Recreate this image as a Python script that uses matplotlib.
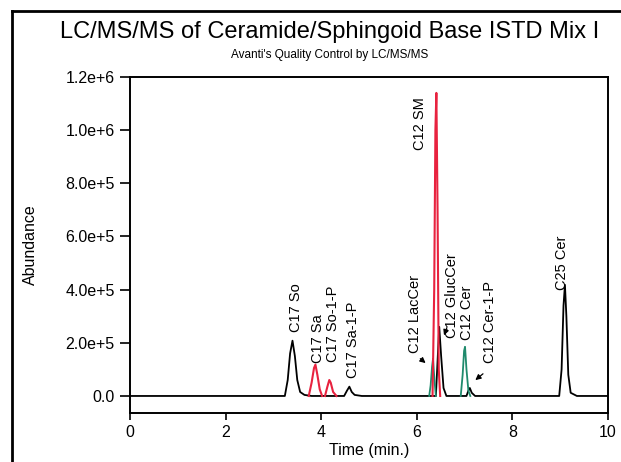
import numpy as np
import matplotlib
matplotlib.use("Agg")
import matplotlib.pyplot as plt
from matplotlib.lines import Line2D

plt.rcParams['font.family'] = ['Liberation Sans', 'DejaVu Sans']

nan = np.nan

# black trace (C17 So, C17 Sa-1-P, C12 GlucCer, C12 Cer-1-P, C25 Cer)
x_black = [0, 3.24, 3.30, 3.35, 3.40, 3.45, 3.50, 3.56, 3.65, 3.80,
           4.48, 4.54, 4.59, 4.64, 4.70, 4.85,
           6.40, 6.44, 6.47, 6.51, 6.56, 6.62,
           7.04, 7.08, 7.11, 7.15, 7.22,
           8.98, 9.03, 9.07, 9.10, 9.13, 9.17, 9.22, 9.35, 10]
y_black = [0, 0, 6e4, 1.6e5, 2.08e5, 1.5e5, 6e4, 1.5e4, 4e3, 0,
           0, 2.0e4, 3.5e4, 1.5e4, 4e3, 0,
           0, 1.5e5, 2.6e5, 1.5e5, 3e4, 0,
           0, 2.0e4, 3.0e4, 1.2e4, 0,
           0, 1.0e5, 3.4e5, 4.18e5, 3.0e5, 8e4, 1.2e4, 0, 0]

# red trace (C17 Sa, C17 So-1-P, C12 SM)
x_red = [3.74, 3.80, 3.85, 3.88, 3.92, 3.97, 4.02, nan,
         4.08, 4.13, 4.17, 4.20, 4.25, 4.32, nan,
         6.33, 6.365, 6.39, 6.41, 6.435, 6.46, 6.49]
y_red = [0, 5.0e4, 1.05e5, 1.18e5, 8.0e4, 2.5e4, 0, nan,
         0, 3.5e4, 6.0e4, 5.0e4, 1.5e4, 0, nan,
         0, 4.0e5, 1.0e6, 1.14e6, 7.0e5, 1.0e5, 0]

# green trace (C12 LacCer, C12 Cer)
x_green = [6.26, 6.29, 6.32, 6.34, 6.37, 6.40, nan,
           6.92, 6.96, 6.99, 7.01, 7.04, 7.08, 7.12]
y_green = [0, 4e4, 1.1e5, 1.4e5, 6e4, 0, nan,
           0, 8e4, 1.7e5, 1.85e5, 1.0e5, 2e4, 0]

peak_labels = ["C17 So", "C17 Sa", "C17 So-1-P", "C17 Sa-1-P", "C12 LacCer",
               "C12 SM", "C12 GlucCer", "C12 Cer", "C12 Cer-1-P", "C25 Cer"]
label_x = [3.47, 3.93, 4.25, 4.67, 5.96, 6.07, 6.74, 7.05, 7.53, 9.04]
label_y = [2.41e5, 1.24e5, 1.28e5, 6.8e4, 1.62e5, 9.25e5, 2.18e5, 2.1e5, 1.24e5, 3.99e5]

yticks = [0, 2e5, 4e5, 6e5, 8e5, 1e6, 1.2e6]
ytick_labels = ["0.0", "2.0e+5", "4.0e+5", "6.0e+5", "8.0e+5", "1.0e+6", "1.2e+6"]
xticks = [0, 2, 4, 6, 8, 10]

fig = plt.figure(figsize=(6.21, 4.62), dpi=100)
ax = fig.add_axes([0.2093, 0.1061, 0.7697, 0.7273])

ax.plot(x_green, y_green, color="#1f8a6c", lw=1.3, zorder=2)
ax.plot(x_black, y_black, color="black", lw=1.3, zorder=1)
ax.plot(x_red, y_red, color="#e8223f", lw=1.5, zorder=3)

for lab, lx, ly in zip(peak_labels, label_x, label_y):
    ax.text(lx, ly, lab, rotation=90, ha="center", va="bottom", fontsize=10.5)

arrow = dict(arrowstyle="-|>", color="black", lw=0.9, mutation_scale=8)
ax.annotate("", xy=(6.23, 1.17e5), xytext=(6.03, 1.47e5), arrowprops=arrow)
ax.annotate("", xy=(6.55, 2.18e5), xytext=(6.65, 2.67e5), arrowprops=arrow)
ax.annotate("", xy=(7.18, 5.3e4), xytext=(7.43, 9.0e4), arrowprops=arrow)

ax.set_xlim(0, 10)
ax.set_ylim(-6.4e4, 1.2e6)
ax.set_xticks(xticks)
ax.set_yticks(yticks)
ax.set_yticklabels(ytick_labels)
ax.tick_params(axis="y", length=7, width=1.2, labelsize=11.5, pad=4)
ax.tick_params(axis="x", length=5, width=1.2, labelsize=11.5, pad=4)
for s in ax.spines.values():
    s.set_linewidth(1.4)
ax.set_xlabel("Time (min.)", fontsize=11.5, labelpad=2)
ax.set_ylabel("Abundance", fontsize=11.5, labelpad=20)

fig.text(330 / 621, 1 - 32 / 462, "LC/MS/MS of Ceramide/Sphingoid Base ISTD Mix I",
         ha="center", va="center", fontsize=17)
fig.text(330 / 621, 1 - 55 / 462, "Avanti's Quality Control by LC/MS/MS",
         ha="center", va="center", fontsize=8.5)

# outer frame (left and top edges visible)
fx, fy = 12 / 621, 1 - 11 / 462
fig.add_artist(Line2D([fx, fx], [0, fy], color="black", lw=2, transform=fig.transFigure))
fig.add_artist(Line2D([fx, 1], [fy, fy], color="black", lw=2, transform=fig.transFigure))

fig.savefig("out.png", dpi=100)
